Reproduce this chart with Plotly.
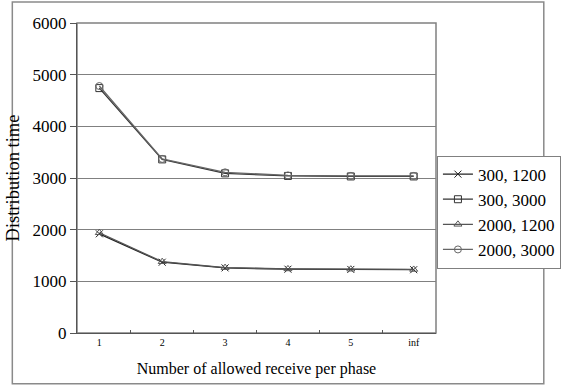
import plotly.graph_objects as go

# Categories on the x axis
phases = ["1", "2", "3", "4", "5", "inf"]

# Distribution time for each (parameter pair) series
s_300_1200 = [1920, 1370, 1260, 1235, 1230, 1225]
s_300_3000 = [4740, 3360, 3090, 3040, 3030, 3030]
s_2000_1200 = [1940, 1380, 1265, 1240, 1235, 1230]
s_2000_3000 = [4780, 3370, 3110, 3050, 3040, 3040]

series = [
    ("300, 1200", s_300_1200, "x-thin-open", "#222222"),
    ("300, 3000", s_300_3000, "square-open", "#333333"),
    ("2000, 1200", s_2000_1200, "triangle-up-open", "#555555"),
    ("2000, 3000", s_2000_3000, "circle-open", "#666666"),
]

fig = go.Figure()
for name, vals, sym, col in series:
    fig.add_trace(go.Scatter(
        x=phases, y=vals, name=name, mode="lines+markers",
        line=dict(color=col, width=1.3),
        marker=dict(symbol=sym, size=7, color=col, line=dict(color=col, width=1)),
    ))

serif = "Times New Roman"
L, R, T, B = 74, 116, 23, 52
W, H = 573, 386
pw, ph = W - L - R, H - T - B

def px(x):
    return (x - L) / pw

def py(y):
    return (H - B - y) / ph

fig.update_layout(
    width=W, height=H,
    margin=dict(l=L, r=R, t=T, b=B),
    paper_bgcolor="white", plot_bgcolor="white",
    font=dict(family=serif, color="black"),
    showlegend=True,
    legend=dict(
        x=px(458), y=py(156), xanchor="left", yanchor="top",
        bordercolor="#808080", borderwidth=1,
        font=dict(family=serif, size=17),
        itemwidth=30, tracegroupgap=0,
    ),
    xaxis=dict(
        type="category", tickson="boundaries",
        ticks="inside", ticklen=3, tickcolor="#555555",
        showline=True, linecolor="#555555", linewidth=1,
        showgrid=False, zeroline=False,
        tickfont=dict(family=serif, size=10),
        title=dict(text="Number of allowed receive per phase",
                   font=dict(family=serif, size=16), standoff=15),
    ),
    yaxis=dict(
        range=[0, 6000], tickvals=[0, 1000, 2000, 3000, 4000, 5000, 6000],
        ticks="outside", ticklen=6, tickcolor="#555555",
        showline=True, linecolor="#555555", linewidth=1,
        showgrid=True, gridcolor="#808080", gridwidth=1, zeroline=False,
        tickfont=dict(family=serif, size=17),
        title=dict(text="Distribution time", font=dict(family=serif, size=18.5), standoff=8),
    ),
    shapes=[
        # plot area frame (top and right edges)
        dict(type="rect", xref="paper", yref="paper", x0=0, x1=1, y0=0, y1=1,
             line=dict(color="#808080", width=1.5), layer="below"),
        # outer chart border
        dict(type="rect", xref="paper", yref="paper",
             x0=px(5), x1=px(572), y0=py(385), y1=py(2),
             line=dict(color="#8a8a8a", width=1.5)),
    ],
)

fig.write_html("out.html")
